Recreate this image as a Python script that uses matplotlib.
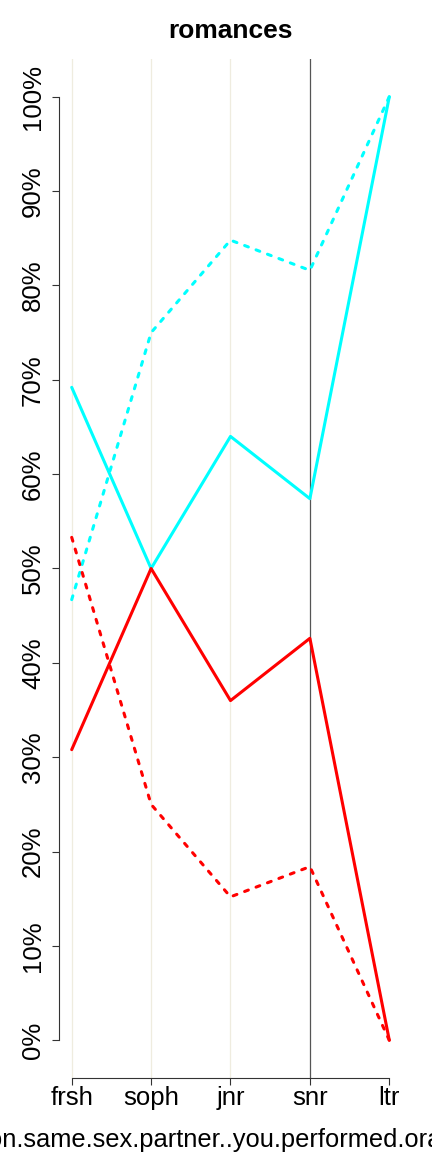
import matplotlib
matplotlib.use('Agg')
import matplotlib.pyplot as plt
import numpy as np

plt.rcParams['font.family'] = ['Liberation Sans', 'DejaVu Sans']

categories = ['frsh', 'soph', 'jnr', 'snr', 'ltr']
cyan_solid = [69.2, 50.0, 64.0, 57.4, 100.0]
red_solid = [30.8, 50.0, 36.0, 42.6, 0.0]
cyan_dotted = [46.7, 75.0, 84.8, 81.6, 100.0]
red_dotted = [53.3, 25.0, 15.2, 18.4, 0.0]
yticks = list(range(0, 101, 10))
xlabel = 'Oral.sex.on.same.sex.partner..you.performed.oral.sex.on.him'

x = np.arange(1, len(categories) + 1)

fig = plt.figure(figsize=(4.32, 11.52), dpi=100)
ax = fig.add_axes([59/432, 1 - 1078/1152, (402 - 59)/432, (1078 - 59)/1152])

# vertical guide lines (last category has none)
guide_colors = ['#EFECDF', '#EFECDF', '#EFECDF', '#555555']
for xi, c in zip(x, guide_colors):
    ax.axvline(xi, color=c, lw=0.9, zorder=1)

ax.plot(x, cyan_solid, color='#00FFFF', lw=2.2, solid_capstyle='round', zorder=3)
ax.plot(x, red_solid, color='#FF0000', lw=2.2, solid_capstyle='round', zorder=3)
ax.plot(x, cyan_dotted, color='#00FFFF', lw=2.2, dashes=(1.3, 2.7),
        dash_capstyle='round', zorder=3)
ax.plot(x, red_dotted, color='#FF0000', lw=2.2, dashes=(1.3, 2.7),
        dash_capstyle='round', zorder=3)

ax.set_xlim(0.84, 5.16)
ax.set_ylim(-4, 104)

ax.spines['top'].set_visible(False)
ax.spines['right'].set_visible(False)
ax.spines['left'].set_bounds(0, 100)
ax.spines['bottom'].set_bounds(1, 5)
for s in ('left', 'bottom'):
    ax.spines[s].set_linewidth(0.8)
    ax.spines[s].set_color('#333333')

ax.set_xticks(x)
ax.set_xticklabels(categories, fontsize=18.5)
ax.set_yticks(yticks)
ax.set_yticklabels([f'{v}%' for v in yticks], fontsize=18.5, rotation=90,
                   va='center')
ax.tick_params(axis='both', length=5, width=0.8, color='#333333')
ax.tick_params(axis='x', pad=1)
ax.tick_params(axis='y', pad=5)

ax.set_title('romances', fontsize=19, fontweight='bold', pad=15)
ax.set_xlabel(xlabel, fontsize=18.4, labelpad=12.5)
ax.xaxis.label.set_x(0.506)

fig.savefig('out.png', dpi=100)
